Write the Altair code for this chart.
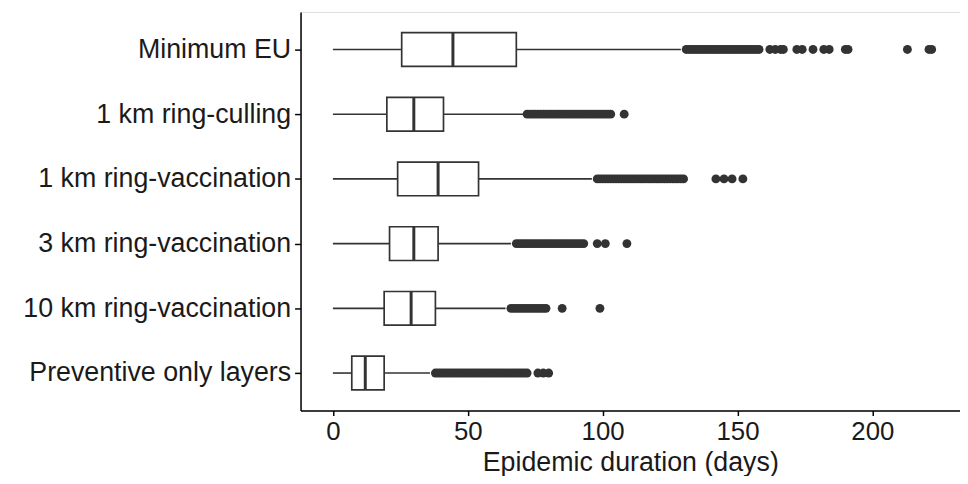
import altair as alt
import pandas as pd

categories = [
    "Minimum EU",
    "1 km ring-culling",
    "1 km ring-vaccination",
    "3 km ring-vaccination",
    "10 km ring-vaccination",
    "Preventive only layers",
]
lower = [0, 0, 0, 0, 0, 0]
q1 = [25.5, 20, 24, 21, 19, 7]
median = [44.5, 30, 39, 30, 29, 12]
q3 = [68, 41, 54, 39, 38, 19]
upper = [129, 71, 96, 66, 64, 36]

out_min_eu = [131, 132, 133, 134, 135, 136, 137, 138, 139, 140, 141, 142, 143, 144,
              145, 146, 147, 148, 149, 150, 151, 152, 153, 154, 155, 156, 157, 158,
              162, 164, 166, 167, 172, 174, 178, 182, 184, 190, 191, 213, 221, 222]
out_1km_cull = [72, 73, 74, 75, 76, 77, 78, 79, 80, 81, 82, 83, 84, 85, 86, 87, 88,
                89, 90, 91, 92, 93, 94, 95, 96, 97, 98, 99, 100, 101, 102, 103, 108]
out_1km_vacc = [98, 99, 100, 101, 102, 103, 104, 105, 106, 107, 108, 109, 110, 111,
                112, 113, 114, 115, 116, 117, 118, 119, 120, 121, 122, 123, 124, 125,
                126, 127, 128, 129, 130, 142, 145, 148, 152]
out_3km_vacc = [68, 69, 70, 71, 72, 73, 74, 75, 76, 77, 78, 79, 80, 81, 82, 83, 84,
                85, 86, 87, 88, 89, 90, 91, 92, 93, 98, 101, 109]
out_10km_vacc = [66, 67, 68, 69, 70, 71, 72, 73, 74, 75, 76, 77, 78, 79, 85, 99]
out_preventive = [38, 39, 40, 41, 42, 43, 44, 45, 46, 47, 48, 49, 50, 51, 52, 53, 54,
                  55, 56, 57, 58, 59, 60, 61, 62, 63, 64, 65, 66, 67, 68, 69, 70, 71,
                  72, 76, 78, 80]

x_ticks = [0, 50, 100, 150, 200]

box_df = pd.DataFrame({
    "scenario": categories, "lower": lower, "q1": q1,
    "median": median, "q3": q3, "upper": upper,
})
outlier_lists = [out_min_eu, out_1km_cull, out_1km_vacc, out_3km_vacc,
                 out_10km_vacc, out_preventive]
rows = []
for cat, vals in zip(categories, outlier_lists):
    for v in vals:
        rows.append({"scenario": cat, "days": v})
out_df = pd.DataFrame(rows)

FONT = "Liberation Sans"
INK = "#333333"
TXT = "#1a1a1a"

xscale = alt.Scale(domain=[-12, 232.5], nice=False, zero=False)
xaxis = alt.Axis(
    values=x_ticks, title="Epidemic duration (days)", grid=False,
    domainColor="black", domainWidth=1.5, tickColor="black", tickWidth=1.5,
    tickSize=5, labelFont=FONT, labelFontSize=26, labelColor=TXT,
    labelPadding=3, titleFont=FONT, titleFontSize=27, titleFontWeight="normal",
    titleColor=TXT, titlePadding=5,
)
yenc = alt.Y(
    "scenario:N", sort=categories,
    scale=alt.Scale(type="point", padding=0.58),
    axis=alt.Axis(
        title=None, grid=False, domainColor="black", domainWidth=1.5,
        tickColor="black", tickWidth=1.5, tickSize=6, labelFont=FONT,
        labelFontSize=27, labelColor=TXT, labelPadding=4, labelLimit=400,
    ),
)

base_box = alt.Chart(box_df)
whisk_lo = base_box.mark_rule(color=INK, strokeWidth=1.6).encode(
    x=alt.X("lower:Q", scale=xscale, axis=xaxis), x2="q1:Q", y=yenc)
whisk_hi = base_box.mark_rule(color=INK, strokeWidth=1.6).encode(
    x=alt.X("q3:Q", scale=xscale), x2="upper:Q", y=yenc)
box = base_box.mark_bar(size=34, fill="white", stroke=INK, strokeWidth=1.7,
                        orient="horizontal", opacity=1).encode(
    x=alt.X("q1:Q", scale=xscale), x2="q3:Q", y=yenc)
med = base_box.mark_tick(color=INK, thickness=3, size=34, orient="vertical",
                         opacity=1).encode(
    x=alt.X("median:Q", scale=xscale), y=yenc)
pts = alt.Chart(out_df).mark_circle(size=80, color=INK, opacity=1).encode(
    x=alt.X("days:Q", scale=xscale), y=yenc)

chart = alt.layer(whisk_lo, whisk_hi, box, med, pts).properties(
    width=665, height=402,
    autosize=alt.AutoSizeParams(type="none"),
    padding={"left": 295, "top": 2, "right": 0, "bottom": 64},
).configure_view(stroke=None).configure(background="white")

chart.save("out.html", embed_options={"renderer": "svg", "actions": False})
